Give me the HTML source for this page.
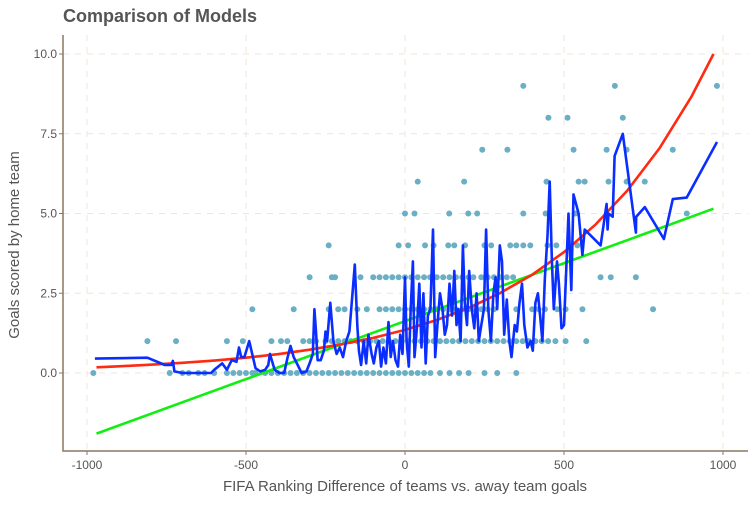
<!DOCTYPE html>
<html><head><meta charset="utf-8"><style>
body{margin:0;background:#fff;font-family:"Liberation Sans",sans-serif}
svg text{font-family:"Liberation Sans",sans-serif}
</style></head><body>
<svg id="chart" width="756" height="502" xmlns="http://www.w3.org/2000/svg">
<text x="63" y="22" font-size="18" font-weight="bold" fill="#555">Comparison of Models</text>
<g id="grid"></g>
<g id="axes"></g>
<g id="points"></g>
<g id="lines"></g>
<text x="405" y="491" font-size="15" fill="#555" text-anchor="middle">FIFA Ranking Difference of teams vs. away team goals</text>
<text transform="translate(19,245) rotate(-90)" font-size="15" fill="#555" text-anchor="middle">Goals scored by home team</text>
</svg>
<script>
const xTicks=[-1000,-500,0,500,1000];
const xTickLabels=["-1000","-500","0","500","1000"];
const yTicks=[0,2.5,5,7.5,10];
const yTickLabels=["0.0","2.5","5.0","7.5","10.0"];
const scatterLevels=[0,1,2,3,4,5,6,7,8,9];
const scatterX=[
[-980,-740,-700,-680,-650,-630,-600,-560,-540,-520,-500,-480,-470,-440,-420,-400,-380,-360,-340,-320,-300,-280,-260,-240,-220,-200,-180,-160,-140,-120,-100,-80,-60,-40,-20,0,20,40,60,80,110,140,170,200,250,290,350],
[-810,-720,-560,-510,-420,-390,-370,-320,-300,-280,-250,-230,-210,-190,-170,-150,-130,-110,-90,-70,-50,-30,-10,10,30,50,70,90,110,130,150,170,190,210,230,250,270,290,310,330,350,370,390,410,430,450,473,505,570],
[-480,-350,-240,-210,-190,-150,-120,-80,-60,-40,-20,0,20,40,60,80,100,120,140,160,180,200,220,240,260,280,350,400,420,440,479,505,558,780],
[-300,-230,-220,-140,-100,-80,-60,-40,-20,0,20,40,60,79,100,120,140,160,180,200,215,240,260,280,300,320,340,615,647,726],
[-240,-20,10,63,90,136,155,189,250,271,331,350,372,394,448,476,542],
[0,30,139,199,227,372,442,536,886],
[40,186,445,546,565,640,697,754],
[243,322,530,634,697,842],
[451,511,685],
[372,660,981]];
const redX=[-970,-900,-800,-700,-600,-500,-400,-300,-200,-100,0,100,200,300,400,500,600,700,800,900,970];
const redY=[0.18,0.21,0.26,0.32,0.39,0.48,0.59,0.73,0.9,1.1,1.35,1.66,2.04,2.51,3.08,3.79,4.66,5.73,7.04,8.65,10.0];
const greenX=[-970,970];
const greenY=[-1.9,5.15];
const blueX=[-975,-810,-755,-735,-730,-725,-700,-640,-610,-600,-575,-560,-545,-530,-522,-515,-505,-490,-470,-455,-440,-430,-425,-410,-395,-380,-370,-360,-350,-340,-325,-310,-300,-290,-285,-280,-275,-265,-255,-250,-245,-235,-225,-215,-205,-195,-185,-175,-165,-158,-150,-145,-138,-130,-122,-115,-105,-98,-90,-82,-75,-68,-60,-52,-45,-38,-30,-22,-15,-8,0,5,12,18,25,30,38,45,52,58,65,72,80,88,95,102,110,118,125,132,140,148,155,162,168,175,182,188,195,202,210,218,225,232,240,248,255,262,270,278,285,290,298,305,312,320,328,335,345,352,360,368,375,385,395,402,410,418,425,432,440,448,455,462,468,478,484,492,500,514,523,530,546,558,565,615,634,637,640,653,659,685,726,727,754,814,842,886,981];
const blueY=[0.45,0.48,0.25,0.25,0.38,0.05,0.0,0.0,0.0,0.1,0.3,0.1,0.4,0.35,0.8,0.5,0.5,1.0,0.15,0.05,0.1,0.25,0.6,0.1,0.0,0.0,0.45,0.85,0.5,0.3,0.0,0.05,0.3,0.6,2.0,1.3,0.4,0.4,0.7,1.3,1.0,2.2,1.0,0.6,0.8,0.5,1.0,1.3,2.5,3.4,1.5,0.7,0.25,1.0,0.3,1.2,0.6,0.3,0.8,1.0,0.2,0.8,0.3,1.6,0.5,1.0,0.4,0.2,1.2,0.6,3.0,1.0,0.2,2.0,3.5,0.5,1.5,2.8,0.8,2.5,0.3,1.8,2.0,4.5,0.5,1.5,2.5,2.0,1.2,1.5,2.8,1.8,3.2,1.5,2.0,1.0,4.0,2.2,1.5,3.2,2.0,1.4,2.5,1.0,1.5,2.0,4.5,2.0,1.0,2.5,3.0,2.0,4.0,3.5,1.2,2.3,1.0,0.5,1.5,1.3,2.2,2.8,1.5,0.8,1.0,0.7,2.2,2.5,1.8,1.0,3.0,4.3,6.0,3.5,2.0,3.5,2.8,1.4,1.5,5.0,2.6,5.6,5.0,3.7,4.5,4.0,5.3,4.5,5.0,4.9,6.8,7.5,4.4,4.9,5.2,4.2,5.45,5.5,7.24];

const NS="http://www.w3.org/2000/svg";
const X0=63,X1=748,Y0=35,Y1=451;
function sx(v){return 405+v*0.318;}
function sy(v){return 373-v*31.9;}
function mk(tag,attrs,parent){const e=document.createElementNS(NS,tag);for(const k in attrs)e.setAttribute(k,attrs[k]);parent.appendChild(e);return e;}
const grid=document.getElementById('grid'),axes=document.getElementById('axes'),pts=document.getElementById('points'),lines=document.getElementById('lines');
xTicks.forEach((t,i)=>{
  const g=mk('line',{x1:sx(t),x2:sx(t),y1:Y0,y2:Y1,stroke:'#efe4da','stroke-dasharray':'6,6','stroke-width':1},grid);
  
  
  const tk=mk('line',{x1:sx(t),x2:sx(t),y1:Y1,y2:Y1+4,stroke:'#8b7760'},axes);
  
  
  const tx=mk('text',{x:sx(t),y:Y1+18,'font-size':12,fill:'#555','text-anchor':'middle'},axes);
  tx.textContent=xTickLabels[i];
  
  
});
yTicks.forEach((t,i)=>{
  const g=mk('line',{x1:X0,x2:X1,y1:sy(t),y2:sy(t),stroke:'#efe4da','stroke-dasharray':'6,6','stroke-width':1},grid);
  
  
  const tk=mk('line',{x1:X0-4,x2:X0,y1:sy(t),y2:sy(t),stroke:'#8b7760'},axes);
  
  
  const tx=mk('text',{x:X0-6,y:sy(t)+4,'font-size':12,fill:'#555','text-anchor':'end'},axes);
  tx.textContent=yTickLabels[i];
  
  
});
const ax=mk('path',{d:`M${X0},${Y0} L${X0},${Y1} L${X1},${Y1}`,fill:'none',stroke:'#8b7760','stroke-width':1.5},axes);


scatterLevels.forEach((lv,i)=>{
  scatterX[i].forEach(v=>{
    const c=mk('circle',{cx:sx(v),cy:sy(lv),r:3,fill:'#6aafc4'},pts);
    
    
  });
});
function poly(xs,ys,color,name){
  const d=xs.map((v,i)=>(i?'L':'M')+sx(v).toFixed(1)+','+sy(ys[i]).toFixed(1)).join(' ');
  const p=mk('path',{d:d,fill:'none',stroke:color,'stroke-width':2.6,'stroke-linejoin':'round'},lines);
  
  
}
poly(greenX,greenY,'#11ee11','linear-model-line');
poly(redX,redY,'#ff2a12','poisson-model-line');
poly(blueX,blueY,'#0a2eff','smoothed-model-line');
</script>
</body></html>
